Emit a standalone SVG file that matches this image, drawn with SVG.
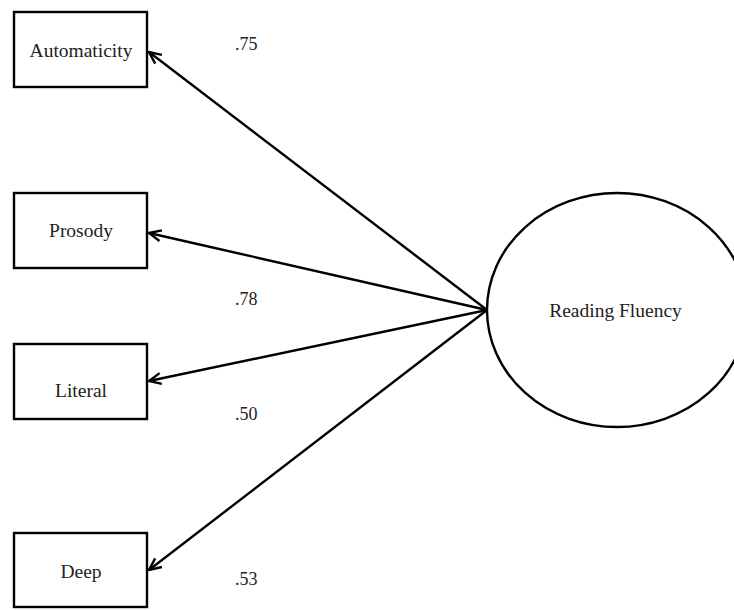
<svg xmlns="http://www.w3.org/2000/svg" width="734" height="610" viewBox="0 0 734 610">
<defs>
<style>
.box{fill:#fff;stroke:#000;stroke-width:2.4}
.lat{fill:#fff;stroke:#000;stroke-width:2.4}
.lbl{font-family:"Liberation Serif","Times New Roman",serif;font-size:19.5px;fill:#222;text-anchor:middle}
.num{font-family:"Liberation Serif","Times New Roman",serif;font-size:18px;fill:#222;text-anchor:start}
.edge{stroke:#000;stroke-width:2.4;fill:none;marker-end:url(#arr)}
</style>
<marker id="arr" viewBox="0 0 14 14" refX="13" refY="7" markerWidth="14" markerHeight="14" markerUnits="userSpaceOnUse" orient="auto">
<path d="M1,1.5 L13,7 L1,12.5" fill="none" stroke="#000" stroke-width="2.4"/>
</marker>
</defs>
<rect width="734" height="610" fill="#fff"/>
<g id="connectors">
<line class="edge" x1="487" y1="310" x2="149" y2="52"/>
<line class="edge" x1="487" y1="310" x2="149" y2="233"/>
<line class="edge" x1="487" y1="310" x2="149" y2="381"/>
<line class="edge" x1="487" y1="310" x2="149" y2="570"/>
</g>
<g id="automaticity">
<rect class="box" x="14" y="12" width="133" height="75"/>
<text class="lbl" x="81" y="57">Automaticity</text>
</g>
<g id="prosody">
<rect class="box" x="14" y="193" width="133" height="75"/>
<text class="lbl" x="81" y="237">Prosody</text>
</g>
<g id="literal">
<rect class="box" x="14" y="344" width="133" height="75"/>
<text class="lbl" x="81" y="397">Literal</text>
</g>
<g id="deep">
<rect class="box" x="14" y="533" width="133" height="74"/>
<text class="lbl" x="81" y="578">Deep</text>
</g>
<g id="reading-fluency">
<ellipse class="lat" cx="617" cy="310" rx="130" ry="117"/>
<text class="lbl" x="615.5" y="317">Reading Fluency</text>
</g>
<g id="loadings">
<text class="num" x="235" y="50">.75</text>
<text class="num" x="235" y="305">.78</text>
<text class="num" x="235" y="420">.50</text>
<text class="num" x="235" y="585">.53</text>
</g>
</svg>
